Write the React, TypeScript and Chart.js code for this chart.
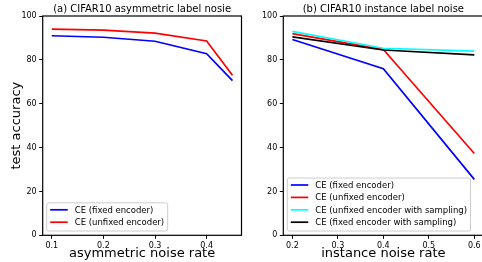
import React, { useEffect, useRef } from "react";
import { Chart, registerables } from "chart.js";
Chart.register(...registerables);

// ---- data ----
const asymRates = [0.1, 0.2, 0.3, 0.4, 0.45];
const asymFixed = [91, 90.3, 88.5, 82.8, 70.5];
const asymUnfixed = [94, 93.6, 92.2, 88.6, 73];
const asymTicksX = [0.1, 0.2, 0.3, 0.4];

const instRates = [0.2, 0.4, 0.6];
const instFixed = [89.3, 76, 25.5];
const instUnfixed = [92, 84.7, 37.3];
const instUnfixedSampling = [93, 85.3, 84];
const instFixedSampling = [90.5, 84.5, 82.3];
const instTicksX = [0.2, 0.3, 0.4, 0.5, 0.6];

const yTicks = [0, 20, 40, 60, 80, 100];

const FONT = '"DejaVu Sans", sans-serif';

type Series = { label: string; color: string; x: number[]; y: number[] };

type PanelProps = {
  left: number;
  width: number;
  plotLeft: number;
  plotRight: number;
  title: string;
  xTitle: string;
  yTitle?: string;
  xMin: number;
  xMax: number;
  xTicks: number[];
  series: Series[];
};

const framePlugin = {
  id: "frameTitleLegend",
  afterDatasetsDraw(chart: any, _args: any, opts: any) {
    const { ctx, chartArea: ca } = chart;
    ctx.save();
    // spines
    ctx.strokeStyle = "#000";
    ctx.lineWidth = 1.2;
    ctx.strokeRect(ca.left, ca.top, ca.right - ca.left, ca.bottom - ca.top);
    // title
    ctx.font = `10px ${FONT}`;
    ctx.fillStyle = "#000";
    ctx.textAlign = "center";
    ctx.textBaseline = "alphabetic";
    ctx.fillText(opts.title, (ca.left + ca.right) / 2, ca.top - 3.7);
    // legend
    const series: Series[] = opts.series;
    ctx.font = `8.5px ${FONT}`;
    const rowH = 12.4;
    let maxW = 0;
    series.forEach((s) => {
      maxW = Math.max(maxW, ctx.measureText(s.label).width);
    });
    const handleLen = 17.5;
    const boxW = 3.5 + handleLen + 7 + maxW + 3.5;
    const boxH = series.length * rowH + 3.4;
    const bx = ca.left + 4;
    const by = ca.bottom - 4.3 - boxH;
    const r = 2;
    ctx.beginPath();
    ctx.moveTo(bx + r, by);
    ctx.lineTo(bx + boxW - r, by);
    ctx.arcTo(bx + boxW, by, bx + boxW, by + r, r);
    ctx.lineTo(bx + boxW, by + boxH - r);
    ctx.arcTo(bx + boxW, by + boxH, bx + boxW - r, by + boxH, r);
    ctx.lineTo(bx + r, by + boxH);
    ctx.arcTo(bx, by + boxH, bx, by + boxH - r, r);
    ctx.lineTo(bx, by + r);
    ctx.arcTo(bx, by, bx + r, by, r);
    ctx.closePath();
    ctx.fillStyle = "rgba(255,255,255,0.8)";
    ctx.fill();
    ctx.strokeStyle = "#cccccc";
    ctx.lineWidth = 1;
    ctx.stroke();
    ctx.textAlign = "left";
    ctx.textBaseline = "middle";
    series.forEach((s, i) => {
      const cy = by + 7 + i * rowH;
      ctx.strokeStyle = s.color;
      ctx.lineWidth = 1.7;
      ctx.beginPath();
      ctx.moveTo(bx + 3.5, cy);
      ctx.lineTo(bx + 3.5 + handleLen, cy);
      ctx.stroke();
      ctx.fillStyle = "#000";
      ctx.fillText(s.label, bx + 3.5 + handleLen + 7, cy + 0.5);
    });
    ctx.restore();
  },
};

function Panel(p: PanelProps) {
  const ref = useRef<HTMLCanvasElement>(null);
  useEffect(() => {
    if (!ref.current) return;
    const n = p.series.length;
    const chart = new Chart(ref.current, {
      type: "line",
      data: {
        datasets: p.series.map((s, i) => ({
          label: s.label,
          data: s.x.map((xv, j) => ({ x: xv, y: s.y[j] })),
          borderColor: s.color,
          backgroundColor: s.color,
          borderWidth: 1.7,
          pointRadius: 0,
          tension: 0,
          fill: false,
          order: n - i,
        })),
      },
      options: {
        animation: false,
        responsive: false,
        devicePixelRatio: 1,
        events: [],
        layout: {
          padding: { top: 16, left: 0, bottom: 0, right: p.width - p.plotRight },
        },
        plugins: {
          legend: { display: false },
          tooltip: { enabled: false },
          frameTitleLegend: { title: p.title, series: p.series },
        } as any,
        scales: {
          x: {
            type: "linear",
            min: p.xMin,
            max: p.xMax,
            afterBuildTicks: (s: any) => {
              s.ticks = p.xTicks.map((v) => ({ value: v }));
            },
            afterFit: (s: any) => {
              s.height = 262 - 235.3;
            },
            grid: {
              drawOnChartArea: false,
              drawTicks: true,
              tickLength: 3.5,
              tickColor: "#000",
              lineWidth: 1,
            },
            border: { display: false },
            ticks: {
              autoSkip: false,
              maxRotation: 0,
              padding: 2,
              color: "#000",
              font: { family: FONT, size: 8 },
              callback: (v: any) => Number(v).toFixed(1),
            },
            title: {
              display: true,
              text: p.xTitle,
              color: "#000",
              font: { family: FONT, size: 13, lineHeight: 1 },
              padding: { top: 0, bottom: 2 },
            },
          },
          y: {
            type: "linear",
            min: 0,
            max: 100,
            afterBuildTicks: (s: any) => {
              s.ticks = yTicks.map((v) => ({ value: v }));
            },
            afterFit: (s: any) => {
              s.width = p.plotLeft;
            },
            grid: {
              drawOnChartArea: false,
              drawTicks: true,
              tickLength: 3.5,
              tickColor: "#000",
              lineWidth: 1,
            },
            border: { display: false },
            ticks: {
              autoSkip: false,
              padding: 2.5,
              color: "#000",
              font: { family: FONT, size: 8 },
              callback: (v: any) => String(v),
            },
            title: {
              display: !!p.yTitle,
              text: p.yTitle || "",
              color: "#000",
              font: { family: FONT, size: 13, lineHeight: 1 },
              padding: { top: 10, bottom: 0 },
            },
          },
        },
      },
      plugins: [framePlugin],
    } as any);
    return () => chart.destroy();
  }, []);
  return (
    <canvas
      ref={ref}
      width={p.width}
      height={262}
      style={{ position: "absolute", left: p.left, top: 0, width: p.width, height: 262 }}
    />
  );
}

export default function App() {
  const seriesA: Series[] = [
    { label: "CE (fixed encoder)", color: "#0000ff", x: asymRates, y: asymFixed },
    { label: "CE (unfixed encoder)", color: "#ff0000", x: asymRates, y: asymUnfixed },
  ];
  const seriesB: Series[] = [
    { label: "CE (fixed encoder)", color: "#0000ff", x: instRates, y: instFixed },
    { label: "CE (unfixed encoder)", color: "#ff0000", x: instRates, y: instUnfixed },
    { label: "CE (unfixed encoder with sampling)", color: "#00ffff", x: instRates, y: instUnfixedSampling },
    { label: "CE (fixed encoder with sampling)", color: "#000000", x: instRates, y: instFixedSampling },
  ];
  return (
    <div
      style={{
        position: "fixed",
        left: 0,
        top: 0,
        width: 482,
        height: 262,
        overflow: "hidden",
        background: "#fff",
      }}
    >
      <Panel
        left={0}
        width={245}
        plotLeft={42.7}
        plotRight={241.5}
        title="(a) CIFAR10 asymmetric label nosie"
        xTitle="asymmetric noise rate"
        yTitle="test accuracy"
        xMin={0.0825}
        xMax={0.4675}
        xTicks={asymTicksX}
        series={seriesA}
      />
      <Panel
        left={241}
        width={246}
        plotLeft={42.3}
        plotRight={242.4}
        title="(b) CIFAR10 instance label noise"
        xTitle="instance noise rate"
        xMin={0.18}
        xMax={0.62}
        xTicks={instTicksX}
        series={seriesB}
      />
    </div>
  );
}
